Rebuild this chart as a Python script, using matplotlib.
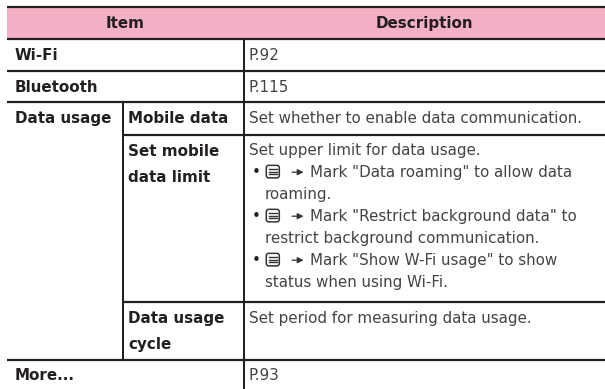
import matplotlib
matplotlib.use("Agg")
import matplotlib.pyplot as plt
from matplotlib.patches import Rectangle, FancyBboxPatch

# ---- table content ----
header_labels = ["Item", "Description"]
main_items = ["Wi-Fi", "Bluetooth", "Data usage", "More..."]
sub_items = ["Mobile data", "Set mobile\ndata limit", "Data usage\ncycle"]
simple_desc = ["P.92", "P.115", "Set whether to enable data communication.",
               "Set upper limit for data usage.",
               "Set period for measuring data usage.", "P.93"]
bullet_lines = [
    ('Mark "Data roaming" to allow data', "roaming."),
    ('Mark "Restrict background data" to', "restrict background communication."),
    ('Mark "Show W-Fi usage" to show', "status when using Wi-Fi."),
]

# ---- layout (pixels) ----
W, H = 605, 389
LINE = "#231f20"
PINK = "#f4b0c4"
TXT = "#231f20"
DESC = "#444444"
FS = 10.9
FAM = "DejaVu Sans"

x_left, x_mid, x_sub, x_right = 7, 243.5, 122.5, 605
row_y = [7, 39, 71, 102, 135, 302, 359.5, 392]

fig = plt.figure(figsize=(W / 100, H / 100), dpi=100)
ax = fig.add_axes([0, 0, 1, 1])
ax.set_xlim(0, W)
ax.set_ylim(H, 0)
ax.axis("off")

# header
ax.add_patch(Rectangle((x_left, row_y[0]), x_right - x_left, row_y[1] - row_y[0],
                       facecolor=PINK, edgecolor="none"))
ax.text((x_left + x_mid) / 2, row_y[0] + 20.5, header_labels[0], ha="center", va="baseline",
        fontsize=FS, fontweight="bold", color=TXT, family=FAM)
ax.text((x_mid + x_right) / 2, row_y[0] + 20.5, header_labels[1], ha="center", va="baseline",
        fontsize=FS, fontweight="bold", color=TXT, family=FAM)

lw = 1.6
def hline(y, x0, x1):
    ax.plot([x0, x1], [y, y], color=LINE, lw=lw, solid_capstyle="butt")
def vline(x, y0, y1):
    ax.plot([x, x], [y0, y1], color=LINE, lw=lw * 0.9, solid_capstyle="butt")

for y in [row_y[0], row_y[1], row_y[2], row_y[3], row_y[6]]:
    hline(y, x_left, x_right)
for y in [row_y[4], row_y[5]]:
    hline(y, x_sub, x_right)
vline(x_mid, row_y[1], H)
vline(x_sub, row_y[3], row_y[6])

BASE = 20.5
BOLD_LS = 26.8
DESC_LS = 22.0

def bold(x, top, s):
    for i, line in enumerate(s.split("\n")):
        ax.text(x, top + BASE + i * BOLD_LS, line, ha="left", va="baseline",
                fontsize=FS, fontweight="bold", color=TXT, family=FAM)

def desc(x, y, s):
    ax.text(x, y, s, ha="left", va="baseline", fontsize=FS, color=DESC, family=FAM)

# main items
bold(15, row_y[1], main_items[0])
bold(15, row_y[2], main_items[1])
bold(15, row_y[3], main_items[2])
bold(15, row_y[6], main_items[3])

# sub items
bold(128.5, row_y[3], sub_items[0])
bold(128.5, row_y[4], sub_items[1])
bold(128.5, row_y[5], sub_items[2])

# descriptions
xd = 249
desc(xd, row_y[1] + BASE, simple_desc[0])
desc(xd, row_y[2] + BASE, simple_desc[1])
desc(xd, row_y[3] + BASE, simple_desc[2])
desc(xd, row_y[4] + BASE - 0.5, simple_desc[3])
desc(xd, row_y[5] + BASE, simple_desc[4])
desc(xd, row_y[6] + BASE, simple_desc[5])

def menu_icon(cx, cy):
    w, h = 13, 12.5
    ax.add_patch(FancyBboxPatch((cx - w / 2, cy - h / 2), w, h,
                                boxstyle="round,pad=0,rounding_size=2.4",
                                facecolor="white", edgecolor="#333333", lw=1.1))
    for dy in (-2.8, 0, 2.8):
        ax.plot([cx - 4.0, cx + 4.0], [cy + dy, cy + dy], color="#333333", lw=1.0)

def arrow(x0, x1, y):
    ax.annotate("", xy=(x1, y), xytext=(x0, y),
                arrowprops=dict(arrowstyle="-|>,head_length=0.35,head_width=0.18",
                                color="#333333", lw=0.9, shrinkA=0, shrinkB=0))

y0 = row_y[4] + BASE - 0.5
for i, (l1, l2) in enumerate(bullet_lines):
    yb = y0 + DESC_LS * (1 + 2 * i)
    ax.text(251.5, yb, "\u2022", ha="left", va="baseline", fontsize=FS, color=TXT, family=FAM)
    menu_icon(272.8, yb - 5.4)
    arrow(292, 303.5, yb - 4.8)
    desc(310.5, yb, l1)
    desc(265, yb + DESC_LS, l2)

fig.savefig("out.png", dpi=100)
